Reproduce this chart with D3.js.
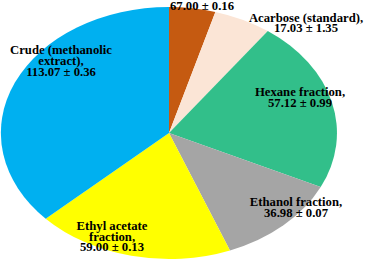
<!DOCTYPE html>
<html>
<head>
<meta charset="utf-8">
<script src="https://cdn.jsdelivr.net/npm/d3@7"></script>
<style>
  html, body { margin: 0; padding: 0; background: #fff; }
  svg { display: block; }
</style>
</head>
<body>
<svg id="chart" width="366" height="263"></svg>
<script>
// Slice order clockwise from 12 o'clock
const categories = ["", "Acarbose (standard),", "Hexane fraction,", "Ethanol fraction,", "Ethyl acetate fraction,", "Crude (methanolic extract),"];
// slice sizes as drawn in the picture (estimated from the angles)
const sliceValues = [13.8, 17.2, 68.4, 37.3, 59.0, 114.4];
// label text lines
const labelLines = [
  ["67.00 \u00b1 0.16"],
  ["Acarbose (standard),", "17.03 \u00b1 1.35"],
  ["Hexane fraction,", "57.12 \u00b1 0.99"],
  ["Ethanol fraction,", "36.98 \u00b1 0.07"],
  ["Ethyl acetate", "fraction,", "59.00 \u00b1 0.13"],
  ["Crude (methanolic", "extract),", "113.07 \u00b1 0.36"]
];
const colors = ["#C55A11", "#FBE5D6", "#32BF8A", "#A5A5A5", "#FFFF00", "#00B0F0"];

const svg = d3.select("#chart");
const cx = 169, cy = 133, rx = 168, ry = 126;

const pie = d3.pie().sort(null).value(d => d)(sliceValues);
const arc = d3.arc().innerRadius(0).outerRadius(1);

const g = svg.append("g").attr("transform", `translate(${cx},${cy}) scale(${rx},${ry})`);
g.selectAll("path").data(pie).enter().append("path")
  .attr("d", arc)
  .attr("fill", (d, i) => colors[i]);

// label anchor positions (center x, first baseline y)
const labelPos = [
  [202, 10.3],
  [306, 21.7],
  [300, 96],
  [296, 206],
  [112, 230],
  [61, 54.3]
];
const lineH = 10.7;

const lg = svg.append("g")
  .attr("font-family", "'Liberation Serif', 'Times New Roman', serif")
  .attr("font-weight", "bold")
  .attr("font-size", "12.7px")
  .attr("fill", "#000")
  .attr("text-anchor", "middle");

labelLines.forEach((lines, i) => {
  const t = lg.append("text")
    .attr("x", labelPos[i][0])
    .attr("y", labelPos[i][1]);
  lines.forEach((ln, j) => {
    t.append("tspan")
      .attr("x", labelPos[i][0])
      .attr("dy", j === 0 ? 0 : lineH)
      .text(ln);
  });
});
</script>
</body>
</html>
